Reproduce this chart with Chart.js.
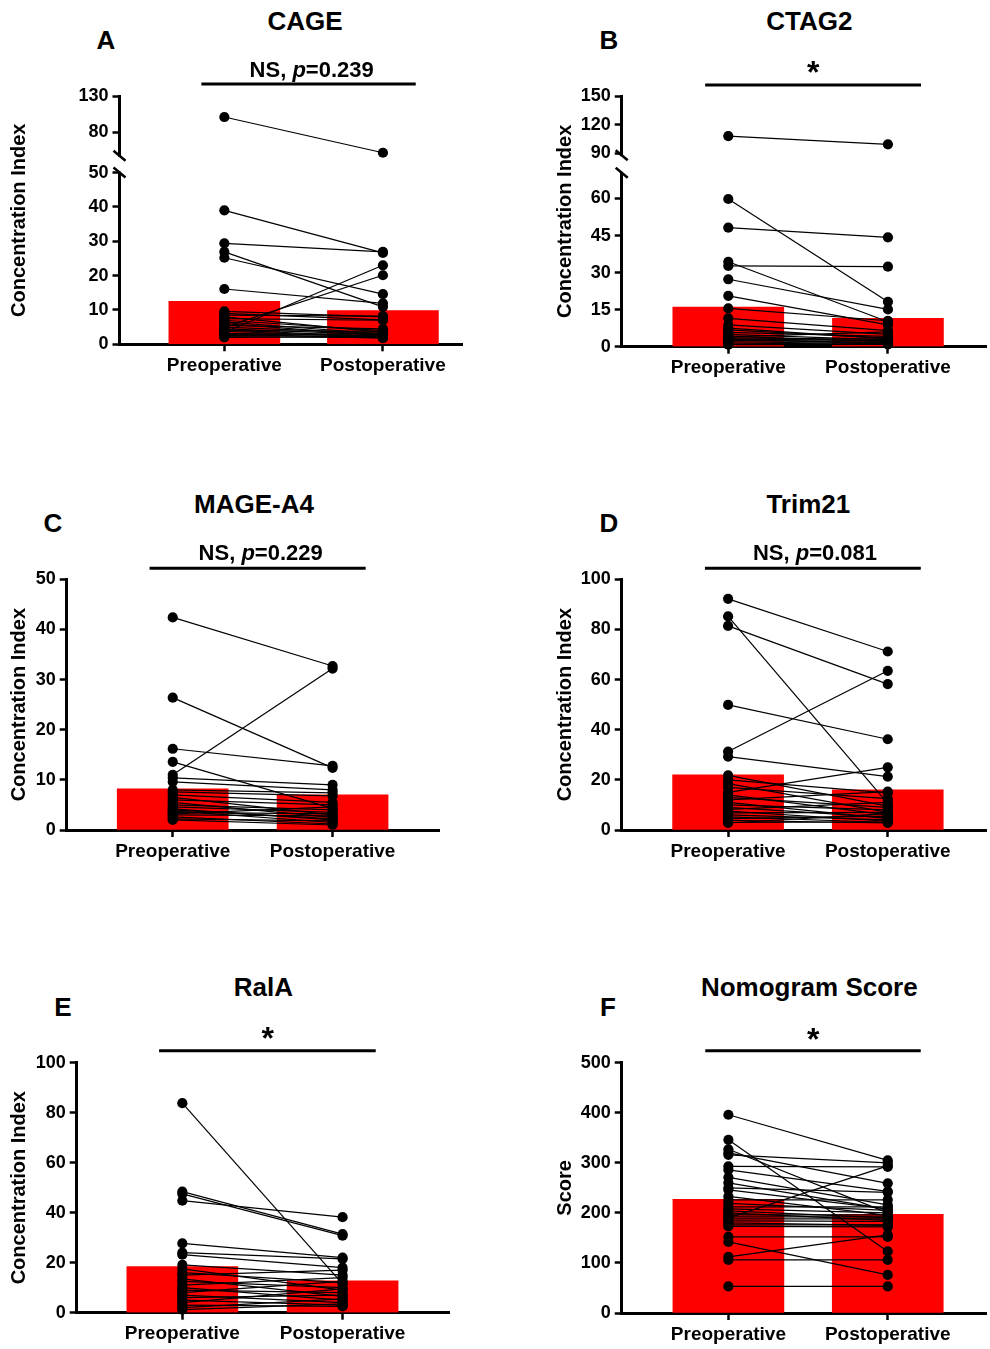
<!DOCTYPE html>
<html>
<head>
<meta charset="utf-8">
<script src="https://cdn.jsdelivr.net/npm/chart.js@4.4.0/dist/chart.umd.min.js"></script>
<style>
  html, body { margin: 0; padding: 0; background: #fff; }
  body { width: 990px; height: 1349px; position: relative; overflow: hidden; font-family: 'Liberation Sans', Arial, sans-serif; }
  canvas { position: absolute; }
  .lbl { position: absolute; white-space: nowrap; font-weight: bold; line-height: 1.15; transform: translateX(-50%); color: #000; }
</style>
</head>
<body>
<script>
// ---------- data ----------
const groups = ['Preoperative', 'Postoperative'];

// A - CAGE
const cagePre  = [101, 39.0, 29.4, 26.9, 25.2, 16.1, 3.5, 5.0, 9.6, 9.0, 8.5, 8.0, 7.5, 7.0, 6.5, 6.0, 5.5, 5.0, 4.5, 4.2, 4.0, 3.8, 3.2, 3.0, 2.8, 2.5, 2.2, 2.0];
const cagePost = [51, 26.6, 26.9, 10.9, 14.6, 11.9, 23.0, 20.1, 8.0, 7.1, 8.2, 3.5, 7.0, 4.0, 3.0, 2.5, 4.5, 3.2, 2.8, 2.2, 3.8, 2.0, 2.6, 1.8, 3.1, 2.4, 1.9, 2.3];
const cageMean = [12.5, 9.8];
const cageTicks = [0, 10, 20, 30, 40, 50, 80, 130];

// B - CTAG2
const ctagPre  = [108, 59.8, 48.2, 32.7, 34.4, 27.3, 20.6, 15.5, 11.5, 8.8, 6.8, 5.8, 5.0, 4.3, 3.6, 3.0, 2.5, 2.0, 1.5, 1.0, 0.8, 4.0, 3.2, 7.5, 2.8];
const ctagPost = [99.4, 18.2, 44.3, 32.4, 10.1, 15.1, 8.8, 10.5, 6.5, 5.0, 3.5, 4.2, 2.8, 2.0, 3.0, 1.5, 2.2, 1.2, 1.0, 1.8, 0.9, 6.0, 2.5, 3.2, 1.4];
const ctagMean = [16.0, 11.5];
const ctagTicks = [0, 15, 30, 45, 60, 90, 120, 150];

// C - MAGE-A4
const magePre  = [42.4, 26.4, 16.2, 13.6, 11.0, 10.4, 9.6, 8.0, 7.6, 7.0, 6.5, 6.0, 5.5, 5.0, 4.6, 4.2, 3.8, 3.5, 3.0, 2.6, 2.2, 2.0, 4.0, 3.2];
const magePost = [32.7, 12.4, 12.8, 4.3, 32.2, 9.0, 8.0, 7.4, 6.8, 5.5, 3.0, 5.0, 2.5, 4.0, 3.5, 2.0, 1.5, 3.2, 2.8, 1.2, 1.8, 1.0, 2.2, 4.6];
const mageMean = [8.2, 7.0];
const mageTicks = [0, 10, 20, 30, 40, 50];

// D - Trim21
const trimPre  = [92.2, 85.2, 81.4, 49.9, 31.3, 29.3, 21.8, 20.0, 18.5, 17.0, 15.0, 14.0, 13.0, 12.0, 11.0, 10.0, 9.0, 8.2, 7.5, 6.8, 6.0, 5.2, 4.5, 3.8, 3.0, 2.8];
const trimPost = [71.2, 10.6, 58.2, 36.2, 63.5, 21.3, 9.5, 14.8, 7.0, 12.5, 25.0, 6.0, 9.0, 15.3, 4.5, 8.0, 5.0, 11.0, 3.5, 7.0, 4.0, 3.0, 5.5, 2.8, 3.2, 6.5];
const trimMean = [22.0, 16.0];
const trimTicks = [0, 20, 40, 60, 80, 100];

// E - RalA
const ralaPre  = [83.8, 48.4, 47.5, 44.8, 27.7, 24.0, 23.2, 19.1, 17.5, 16.0, 15.0, 13.5, 12.5, 11.0, 10.0, 9.0, 8.0, 7.0, 6.0, 5.0, 4.0, 3.0, 2.0, 1.2];
const ralaPost = [11.5, 31.4, 30.8, 38.2, 22.0, 21.5, 18.0, 15.0, 9.0, 12.0, 17.0, 6.5, 10.0, 14.0, 5.0, 8.0, 12.5, 4.0, 7.0, 3.0, 9.5, 2.5, 5.5, 3.5];
const ralaMean = [18.4, 12.7];
const ralaTicks = [0, 20, 40, 60, 80, 100];

// F - Nomogram score
const nomoPre  = [396, 346, 327, 320, 316, 293, 286, 190, 271, 260, 250, 246, 233, 226, 219, 212, 208, 204, 200, 196, 192, 188, 184, 180, 176, 173, 142, 152, 112, 106, 53];
const nomoPost = [305, 123, 200, 259, 300, 292, 243, 294, 216, 207, 241, 208, 195, 226, 205, 212, 200, 190, 185, 196, 192, 188, 183, 175, 176, 172, 76, 152, 156, 106, 53];
const nomoMean = [227.3, 197.3];
const nomoTicks = [0, 100, 200, 300, 400, 500];

// broken y axes (A, B): values above lowMax are squeezed into the upper segment
const cageBreak = { lowMax: 50, upVals: [80, 130], upDisp: [61.8, 72.2], slash: [50.0, 54.9] };
const ctagBreak = { lowMax: 70.4, upVals: [90, 150], upDisp: [78.3, 101.5], slash: [70.4, 77.5] };

const FONT = "'Liberation Sans', Arial, sans-serif";

const panels = [
  { letter: 'A', title: 'CAGE', yTitle: 'Concentration Index', sig: 'NS, <i>p</i>=0.239',
    pre: cagePre, post: cagePost, mean: cageMean, ticks: cageTicks, brk: cageBreak,
    box: { left: 0, axisX: 119.5, xEnd: 466, yTop: 96.3, yBottom: 344.3, preX: 225.3, postX: 385.3, sigY: 84 },
    pos: { letter: [106, 50], title: [305, 30.7], sig: [311.7, 77] } },
  { letter: 'B', title: 'CTAG2', yTitle: 'Concentration Index', sig: '*',
    pre: ctagPre, post: ctagPost, mean: ctagMean, ticks: ctagTicks, brk: ctagBreak,
    box: { left: 546, axisX: 621.7, xEnd: 990, yTop: 96, yBottom: 346.7, preX: 729.2, postX: 890.2, sigY: 85 },
    pos: { letter: [609, 50], title: [809.3, 30.7], sig: [813.3, 83] } },
  { letter: 'C', title: 'MAGE-A4', yTitle: 'Concentration Index', sig: 'NS, <i>p</i>=0.229',
    pre: magePre, post: magePost, mean: mageMean, ticks: mageTicks, brk: null,
    box: { left: 0, axisX: 66.7, xEnd: 443.3, yTop: 579.3, yBottom: 830, preX: 173.7, postX: 335, sigY: 568.3 },
    pos: { letter: [53, 533], title: [254, 514.3], sig: [260.7, 560] } },
  { letter: 'D', title: 'Trim21', yTitle: 'Concentration Index', sig: 'NS, <i>p</i>=0.081',
    pre: trimPre, post: trimPost, mean: trimMean, ticks: trimTicks, brk: null,
    box: { left: 546, axisX: 621.7, xEnd: 990, yTop: 579.3, yBottom: 830, preX: 729, postX: 890, sigY: 568.3 },
    pos: { letter: [609, 533], title: [808.3, 514], sig: [815, 560] } },
  { letter: 'E', title: 'RalA', yTitle: 'Concentration Index', sig: '*',
    pre: ralaPre, post: ralaPost, mean: ralaMean, ticks: ralaTicks, brk: null,
    box: { left: 0, axisX: 76.7, xEnd: 453.3, yTop: 1062.7, yBottom: 1312.7, preX: 183.3, postX: 345, sigY: 1050.7 },
    pos: { letter: [63, 1016.7], title: [263.3, 997.3], sig: [267.7, 1049.7] } },
  { letter: 'F', title: 'Nomogram Score', yTitle: 'Score', sig: '*',
    pre: nomoPre, post: nomoPost, mean: nomoMean, ticks: nomoTicks, brk: null,
    box: { left: 546, axisX: 621.7, xEnd: 990, yTop: 1062.7, yBottom: 1313, preX: 729.3, postX: 890, sigY: 1050.7 },
    pos: { letter: [608, 1016.7], title: [809.3, 997.3], sig: [813.3, 1050] } }
];

// draws the significance bar and the axis break marks
const panelDecor = {
  id: 'panelDecor',
  afterDraw(chart, args, opts) {
    const { ctx, chartArea, scales } = chart;
    ctx.save();
    ctx.strokeStyle = '#000';
    ctx.lineWidth = 3;
    ctx.beginPath();
    ctx.moveTo(scales.x.getPixelForValue(0.855), opts.sigY);
    ctx.lineTo(scales.x.getPixelForValue(2.207), opts.sigY);
    ctx.stroke();
    if (opts.slash) {
      const ax = chartArea.left;
      const y0 = scales.y.getPixelForValue(opts.slash[0]);
      const y1 = scales.y.getPixelForValue(opts.slash[1]);
      ctx.fillStyle = '#fff';
      ctx.fillRect(ax - 3, y1 + 1, 6, y0 - y1 - 2);
      ctx.lineWidth = 2.5;
      [y0, y1].forEach(py => {
        ctx.beginPath();
        ctx.moveTo(ax - 6, py - 5);
        ctx.lineTo(ax + 6, py + 5);
        ctx.stroke();
      });
    }
    ctx.restore();
  }
};

function addText(html, cx, baseline, size) {
  const d = document.createElement('div');
  d.className = 'lbl';
  d.innerHTML = html;
  d.style.fontSize = size + 'px';
  d.style.left = cx + 'px';
  d.style.top = (baseline - 0.9215 * size) + 'px';
  document.body.appendChild(d);
}

function buildPanel(p) {
  const b = p.box;
  const top = Math.round(b.yTop) - 22;
  const height = Math.round(b.yBottom) + 44 - top;
  const width = Math.round(b.xEnd) + 2 - b.left;

  const cv = document.createElement('canvas');
  cv.width = width;
  cv.height = height;
  cv.style.left = b.left + 'px';
  cv.style.top = top + 'px';
  cv.style.width = width + 'px';
  cv.style.height = height + 'px';
  document.body.appendChild(cv);

  const brk = p.brk;
  const disp = v => {
    if (!brk || v <= brk.lowMax) return v;
    const k = (brk.upDisp[1] - brk.upDisp[0]) / (brk.upVals[1] - brk.upVals[0]);
    return brk.upDisp[0] + (v - brk.upVals[0]) * k;
  };

  const u = b.postX - b.preX;
  const xMin = 1 - (b.preX - b.axisX) / u;
  const xMax = 2 + (b.xEnd - b.postX) / u;

  const datasets = [{
    type: 'bar',
    data: p.mean.map((m, i) => ({ x: i + 1, y: m })),
    backgroundColor: '#ff0000',
    borderWidth: 0,
    barThickness: 111,
    order: 1
  }];
  p.pre.forEach((v, i) => {
    datasets.push({
      type: 'line',
      data: [{ x: 1, y: disp(v) }, { x: 2, y: disp(p.post[i]) }],
      borderColor: '#000',
      borderWidth: 1.2,
      pointRadius: 5.1,
      pointBackgroundColor: '#000',
      pointBorderWidth: 0,
      clip: false,
      order: 0
    });
  });

  const tickFont = { family: FONT, size: 18, weight: 'bold' };
  const axisGrid = { offset: false, drawOnChartArea: false, drawTicks: true, tickLength: 7, tickColor: '#000', tickWidth: 2.5, color: '#000' };
  const axisBorder = { display: true, color: '#000', width: 3 };

  new Chart(cv, {
    type: 'bar',
    data: { datasets },
    options: {
      responsive: false,
      animation: false,
      layout: { padding: { top: b.yTop - top, right: 2, left: 0, bottom: 0 } },
      plugins: {
        legend: { display: false },
        tooltip: { enabled: false },
        panelDecor: { sigY: b.sigY - top, slash: brk ? brk.slash : null }
      },
      scales: {
        x: {
          type: 'linear', min: xMin, max: xMax, offset: false,
          afterBuildTicks: s => { s.ticks = [{ value: 1 }, { value: 2 }]; },
          afterFit: s => { s.height = top + height - b.yBottom; },
          ticks: { callback: (v, i) => groups[i], font: { family: FONT, size: 19, weight: 'bold' }, color: '#000', padding: 3, autoSkip: false, maxRotation: 0 },
          grid: axisGrid,
          border: axisBorder
        },
        y: {
          type: 'linear', min: 0, max: disp(p.ticks[p.ticks.length - 1]),
          afterBuildTicks: s => { s.ticks = p.ticks.map(t => ({ value: disp(t) })); },
          afterFit: s => { s.width = b.axisX - b.left; },
          ticks: { callback: (v, i) => String(p.ticks[i]), font: tickFont, color: '#000', padding: 4, autoSkip: false },
          grid: axisGrid,
          border: axisBorder,
          title: { display: true, text: p.yTitle, color: '#000', font: { family: FONT, size: 20, weight: 'bold' }, padding: { top: 7, bottom: 0 } }
        }
      }
    },
    plugins: [panelDecor]
  });

  addText(p.letter, p.pos.letter[0], p.pos.letter[1], 26);
  addText(p.title, p.pos.title[0], p.pos.title[1], 26);
  addText(p.sig, p.pos.sig[0], p.pos.sig[1], p.sig === '*' ? 32 : 22);
}

panels.forEach(buildPanel);
</script>
</body>
</html>
